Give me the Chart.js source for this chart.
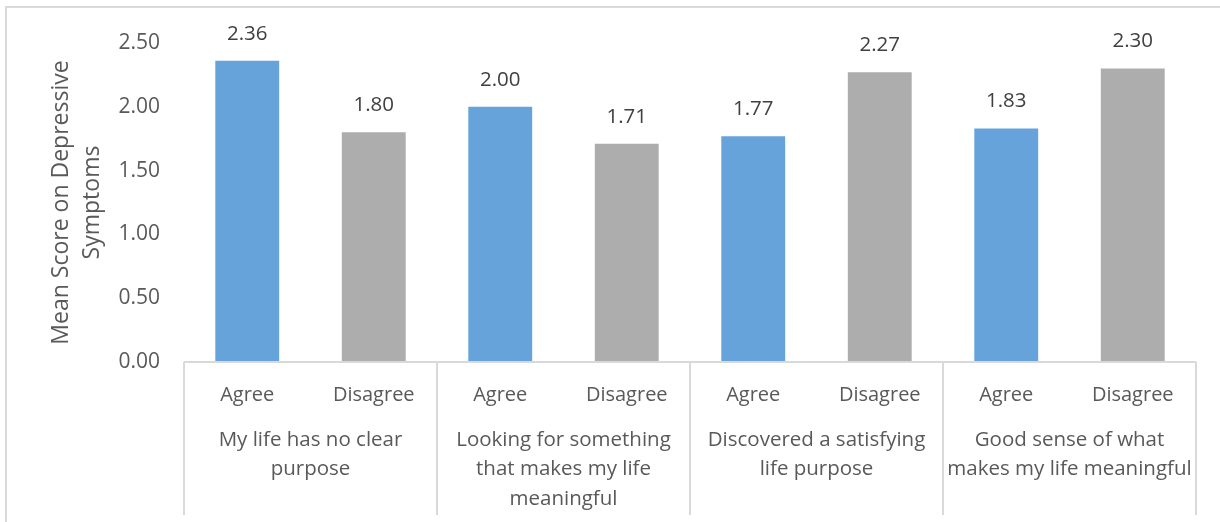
<!DOCTYPE html>
<html>
<head>
<meta charset="utf-8">
<script src="https://cdn.jsdelivr.net/npm/chart.js@4.4.1/dist/chart.umd.min.js"></script>
<style>
    html, body { margin: 0; padding: 0; background: #fff; }
    #wrap { width: 1220px; height: 522px; position: relative; }
</style>
</head>
<body>
<div id="wrap"><canvas id="chart"></canvas></div>
<script>
// Data
const responses = ['Agree', 'Disagree', 'Agree', 'Disagree', 'Agree', 'Disagree', 'Agree', 'Disagree'];
const statements = [
    ['My life has no clear', 'purpose'],
    ['Looking for something', 'that makes my life', 'meaningful'],
    ['Discovered a satisfying', 'life purpose'],
    ['Good sense of what', 'makes my life meaningful']
];
const meanScores = [2.36, 1.80, 2.00, 1.71, 1.77, 2.27, 1.83, 2.30];
const yTicks = [0, 0.5, 1, 1.5, 2, 2.5];

const FONT = "'Open Sans', 'Noto Sans', sans-serif";
const TEXT = '#595959';
const LINE = '#d9d9d9';
const colorFor = r => r === 'Agree' ? '#65a3da' : '#adadad';

// Value labels above bars
const valueLabels = {
    id: 'valueLabels',
    afterDatasetsDraw(chart) {
        const ctx = chart.ctx;
        const meta = chart.getDatasetMeta(0);
        ctx.save();
        ctx.font = '20.5px ' + FONT;
        ctx.fillStyle = '#404040';
        ctx.textAlign = 'center';
        ctx.textBaseline = 'middle';
        meta.data.forEach((bar, i) => {
            ctx.fillText(meanScores[i].toFixed(2), bar.x, bar.y - 27);
        });
        ctx.restore();
    }
};

// Baseline, group separators and outer frame
const frameLines = {
    id: 'frameLines',
    afterDraw(chart) {
        const ctx = chart.ctx;
        const x = chart.scales.x;
        const base = chart.chartArea.bottom;
        ctx.save();
        ctx.strokeStyle = LINE;
        ctx.lineWidth = 2;
        ctx.beginPath();
        ctx.moveTo(x.left, base);
        ctx.lineTo(x.right, base);
        const edges = [x.left];
        for (let i = 2; i < responses.length; i += 2) {
            edges.push((x.getPixelForValue(i - 1) + x.getPixelForValue(i)) / 2);
        }
        edges.push(x.right);
        edges.forEach(px => {
            ctx.moveTo(Math.round(px), base);
            ctx.lineTo(Math.round(px), 515);
        });
        ctx.stroke();
        ctx.beginPath();
        ctx.rect(6, 7, 1240, 540);
        ctx.stroke();
        ctx.restore();
    }
};

new Chart(document.getElementById('chart'), {
    type: 'bar',
    data: {
        labels: responses,
        datasets: [{
            data: meanScores,
            backgroundColor: responses.map(colorFor),
            barPercentage: 0.505,
            categoryPercentage: 1.0
        }]
    },
    options: {
        responsive: true,
        maintainAspectRatio: false,
        animation: false,
        layout: { padding: { top: 43, right: 24, bottom: 0, left: 0 } },
        plugins: {
            legend: { display: false },
            tooltip: { enabled: false }
        },
        scales: {
            y: {
                min: 0,
                max: 2.5,
                afterBuildTicks: axis => { axis.ticks = yTicks.map(v => ({ value: v })); },
                afterFit: axis => { axis.width = 184; },
                grid: { display: false, drawTicks: false },
                border: { display: false },
                ticks: {
                    color: TEXT,
                    padding: 24,
                    font: { family: FONT, size: 21 },
                    callback: v => Number(v).toFixed(2)
                },
                title: {
                    display: true,
                    text: ['Mean Score on Depressive', 'Symptoms'],
                    color: TEXT,
                    font: { family: FONT, size: 23, lineHeight: 1.35 },
                    padding: { top: 46, bottom: 0 }
                }
            },
            x: {
                weight: 0,
                afterFit: axis => { axis.height = 60; },
                grid: { display: false, drawTicks: false },
                border: { display: false },
                ticks: {
                    color: TEXT,
                    padding: 21,
                    maxRotation: 0,
                    autoSkip: false,
                    font: { family: FONT, size: 20, lineHeight: 1.2 }
                }
            },
            group: {
                type: 'category',
                position: 'bottom',
                weight: 1,
                labels: statements,
                offset: true,
                afterFit: axis => { axis.height = 100; },
                grid: { display: false, drawTicks: false },
                border: { display: false },
                ticks: {
                    color: TEXT,
                    padding: 3,
                    maxRotation: 0,
                    autoSkip: false,
                    font: { family: FONT, size: 20.5, lineHeight: 1.44 }
                }
            }
        }
    },
    plugins: [valueLabels, frameLines]
});
</script>
</body>
</html>
